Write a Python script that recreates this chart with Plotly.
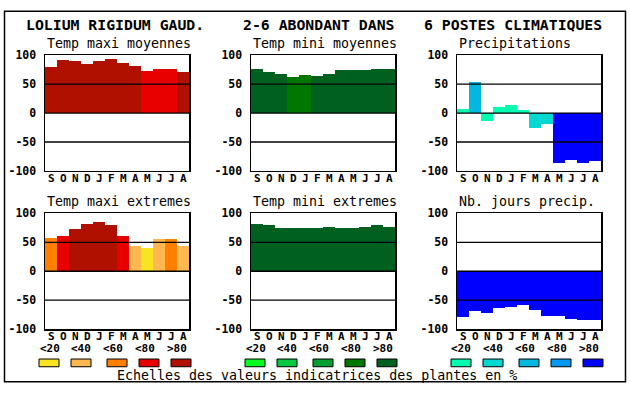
import plotly.graph_objects as go

W, H = 630, 394

months = ["S", "O", "N", "D", "J", "F", "M", "A", "M", "J", "J", "A"]
y_ticks = [-100, -50, 0, 50, 100]
y_ticktext = ["-100", "-50", "0", "50", "100"]
legend_labels = ["<20", "<40", "<60", "<80", ">80"]

titles = ["LOLIUM RIGIDUM GAUD.", "2-6 ABONDANT DANS", "6 POSTES CLIMATIQUES"]
subtitles = ["Temp maxi moyennes", "Temp mini moyennes", "Precipitations",
             "Temp maxi extremes", "Temp mini extremes", "Nb. jours precip."]
footer = "Echelles des valeurs indicatrices des plantes en %"

# values
temp_maxi_moy = [80, 91.7, 90, 85, 90, 93, 86.7, 81.7, 73.3, 76.7, 76.7, 71.7]
temp_mini_moy = [76.7, 71.7, 66.7, 61.7, 65, 63.3, 66.7, 75, 75, 75, 76.7, 76.7]
precip = [6.7, 53.3, -13.3, 10, 13.3, 5, -25, -18.3, -86.7, -81.7, -86.7, -83.3]
temp_maxi_ext = [56.7, 61.7, 73.3, 81.7, 85, 80, 61.7, 43.3, 40, 55, 55, 43.3]
temp_mini_ext = [81.7, 80, 75, 75, 75, 75, 76.7, 75, 75, 76.7, 80, 76.7]
nb_jours = [-78.3, -68.3, -71.7, -63.3, -61.7, -58.3, -66.7, -76.7, -76.7, -81.7, -85, -85]

# colour class (0..4 -> <20 .. >80) of each bar
cls_maxi_moy = [4, 4, 4, 4, 4, 4, 4, 4, 3, 3, 3, 4]
cls_mini_moy = [4, 4, 4, 3, 3, 4, 4, 4, 4, 4, 4, 4]
cls_precip = [0, 2, 0, 0, 0, 0, 1, 1, 4, 4, 4, 4]
cls_maxi_ext = [2, 3, 4, 4, 4, 4, 3, 1, 0, 1, 2, 1]
cls_mini_ext = [4] * 12
cls_nb_jours = [4] * 12

pal_warm = ["#f8e420", "#ffb850", "#ff8000", "#e80000", "#b01000"]
pal_green = ["#00ff20", "#00c840", "#00a030", "#007800", "#006020"]
pal_blue = ["#00ffb0", "#00d8d0", "#00b8e0", "#0098f0", "#0000ff"]

panels = [
    (temp_maxi_moy, cls_maxi_moy, pal_warm),
    (temp_mini_moy, cls_mini_moy, pal_green),
    (precip, cls_precip, pal_blue),
    (temp_maxi_ext, cls_maxi_ext, pal_warm),
    (temp_mini_ext, cls_mini_ext, pal_green),
    (nb_jours, cls_nb_jours, pal_blue),
]

# layout geometry (pixels)
col_left = [45, 251, 457]
plot_w = 144
row_top = [50, 214]
plot_h = 120
month_y = [177.5, 341.5]

MONO = "DejaVu Sans Mono"

def px(x):
    return x / W

def py(y):
    return 1 - y / H

fig = go.Figure()
layout = dict(
    width=W, height=H, margin=dict(l=0, r=0, t=0, b=0),
    paper_bgcolor="white", plot_bgcolor="white", showlegend=False,
    bargap=0, font=dict(family=MONO, color="black"),
)
shapes = []
annotations = []

for i, (vals, cls, pal) in enumerate(panels):
    r, c = divmod(i, 3)
    n = "" if i == 0 else str(i + 1)
    xa, ya = "x" + n, "y" + n
    fig.add_trace(go.Bar(
        x=list(range(len(months))), y=vals,
        marker=dict(color=[pal[k] for k in cls], line=dict(width=0)),
        xaxis=xa, yaxis=ya, width=1.0, hoverinfo="skip",
    ))
    x0, y0 = col_left[c], row_top[r]
    layout["xaxis" + n] = dict(
        domain=[px(x0), px(x0 + plot_w)], anchor=ya,
        range=[-0.5, len(months) - 0.5], showticklabels=False,
        showgrid=False, zeroline=False, showline=True, mirror=True,
        linecolor="black", linewidth=1.5, ticks="", layer="above traces",
        fixedrange=True,
    )
    layout["yaxis" + n] = dict(
        domain=[py(y0 + plot_h), py(y0)], anchor=xa,
        range=[-100, 100], tickmode="array", tickvals=y_ticks, ticktext=y_ticktext,
        showgrid=False, zeroline=False, showline=True, mirror=True,
        linecolor="black", linewidth=1.5, ticks="", layer="above traces",
        tickfont=dict(family=MONO, size=11.5, color="black", weight="bold"),
        ticklabelstandoff=5, fixedrange=True,
    )
    for g in (50, 0, -50):
        shapes.append(dict(type="line", xref=xa + " domain", yref=ya,
                           x0=0, x1=1, y0=g, y1=g, layer="above",
                           line=dict(color="black", width=1.3)))
    annotations.append(dict(text=subtitles[i], x=px(x0), y=py(y0 - 12),
                            xref="paper", yref="paper", xanchor="left", yanchor="middle",
                            showarrow=False, font=dict(family=MONO, size=13.3, color="black")))
    for k, m in enumerate(months):
        annotations.append(dict(text=m, x=k, y=py(month_y[r]), xref=xa, yref="paper",
                                xanchor="center", yanchor="middle", showarrow=False,
                                font=dict(family=MONO, size=11, color="black", weight="bold")))

# top titles
title_cx = [115, 318.5, 512.5]
for t, cx in zip(titles, title_cx):
    annotations.append(dict(text=t, x=px(cx), y=py(18), xref="paper", yref="paper",
                            xanchor="center", yanchor="middle", showarrow=False,
                            font=dict(family=MONO, size=14.8, color="black", weight="bold")))

# legends under bottom row
box_off = [-6, 26, 62, 94, 126]
lab_off = [4.5, 35.5, 68, 100, 132]
pals = [pal_warm, pal_green, pal_blue]
for c in range(3):
    left = col_left[c]
    for k in range(5):
        bx = left + box_off[k]
        shapes.append(dict(type="rect", xref="paper", yref="paper",
                           x0=px(bx), x1=px(bx + 20), y0=py(373), y1=py(365),
                           fillcolor=pals[c][k], line=dict(color="black", width=1)))
        annotations.append(dict(text=legend_labels[k], x=px(left + lab_off[k]), y=py(354.5),
                                xref="paper", yref="paper", xanchor="center", yanchor="middle",
                                showarrow=False,
                                font=dict(family=MONO, size=11, color="black", weight="bold")))

annotations.append(dict(text=footer, x=px(115), y=py(382.5), xref="paper", yref="paper",
                        xanchor="left", yanchor="middle", showarrow=False,
                        font=dict(family=MONO, size=13.3, color="black")))

# outer frame
shapes.append(dict(type="rect", xref="paper", yref="paper",
                   x0=px(4.5), x1=px(625.5), y0=py(388.5), y1=py(4.5),
                   line=dict(color="black", width=1.5), fillcolor="rgba(0,0,0,0)"))

layout["shapes"] = shapes
layout["annotations"] = annotations
fig.update_layout(**layout)
fig.write_html("out.html", config={"displayModeBar": False, "staticPlot": True},
               post_script="document.body.style.margin='0';document.body.style.overflow='hidden';")
